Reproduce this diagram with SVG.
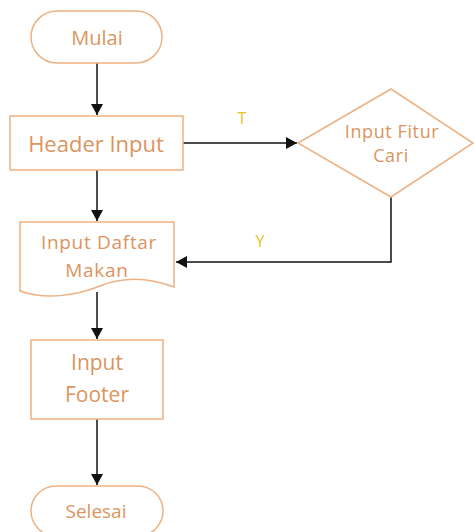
<svg xmlns="http://www.w3.org/2000/svg" width="474" height="532" viewBox="0 0 474 532">
<defs>
<style>
.shape{fill:#fff;stroke:#EDB283;stroke-width:1.5}
.t{font-family:"Open Sans","Liberation Sans",sans-serif;fill:#DB9560;text-anchor:middle}
.lbl{font-family:"Open Sans","Liberation Sans",sans-serif;fill:#E8C22A;text-anchor:middle}
.c{fill:none;stroke:#111;stroke-width:1.5}
</style>
<marker id="ah" markerWidth="12" markerHeight="12" refX="11" refY="6" orient="auto" markerUnits="userSpaceOnUse">
<path d="M0,0 L11,6 L0,12 Z" fill="#111"/>
</marker>
</defs>
<rect width="474" height="532" fill="#fff"/>
<g id="connectors">
<path class="c" d="M97,63 V115" marker-end="url(#ah)"/>
<path class="c" d="M183,143 H297" marker-end="url(#ah)"/>
<path class="c" d="M97,170 V221" marker-end="url(#ah)"/>
<path class="c" d="M391,197 V262 H176" marker-end="url(#ah)"/>
<path class="c" d="M97,292 V339" marker-end="url(#ah)"/>
<path class="c" d="M97,419 V485" marker-end="url(#ah)"/>
<text class="lbl" x="242" y="124" font-size="16">T</text>
<text class="lbl" x="260" y="247" font-size="16">Y</text>
</g>
<g id="mulai">
<rect class="shape" x="31" y="11" width="131" height="52" rx="26"/>
<text class="t" x="97" y="45" font-size="20">Mulai</text>
</g>
<g id="header-input">
<rect class="shape" x="10" y="116" width="173" height="54"/>
<text class="t" x="96" y="152" font-size="22">Header Input</text>
</g>
<g id="input-fitur-cari">
<path class="shape" d="M298,143 L391,89 L473,143 L391,197 Z"/>
<text class="t" x="392" y="138" font-size="18" letter-spacing="0.6">Input Fitur</text>
<text class="t" x="391" y="162" font-size="18" letter-spacing="0.6">Cari</text>
</g>
<g id="input-daftar-makan">
<path class="shape" d="M20,222 H174 V287 C150,278 125,276 100,286 C75,296 45,300 20,291 Z"/>
<text class="t" x="99" y="249" font-size="19" letter-spacing="0.7">Input Daftar</text>
<text class="t" x="97" y="277" font-size="19" letter-spacing="0.7">Makan</text>
</g>
<g id="input-footer">
<rect class="shape" x="31" y="340" width="132" height="79"/>
<text class="t" x="97" y="370" font-size="21">Input</text>
<text class="t" x="97" y="402" font-size="21">Footer</text>
</g>
<g id="selesai">
<rect class="shape" x="31" y="486" width="132" height="50" rx="25"/>
<text class="t" x="96" y="518" font-size="19">Selesai</text>
</g>
</svg>
